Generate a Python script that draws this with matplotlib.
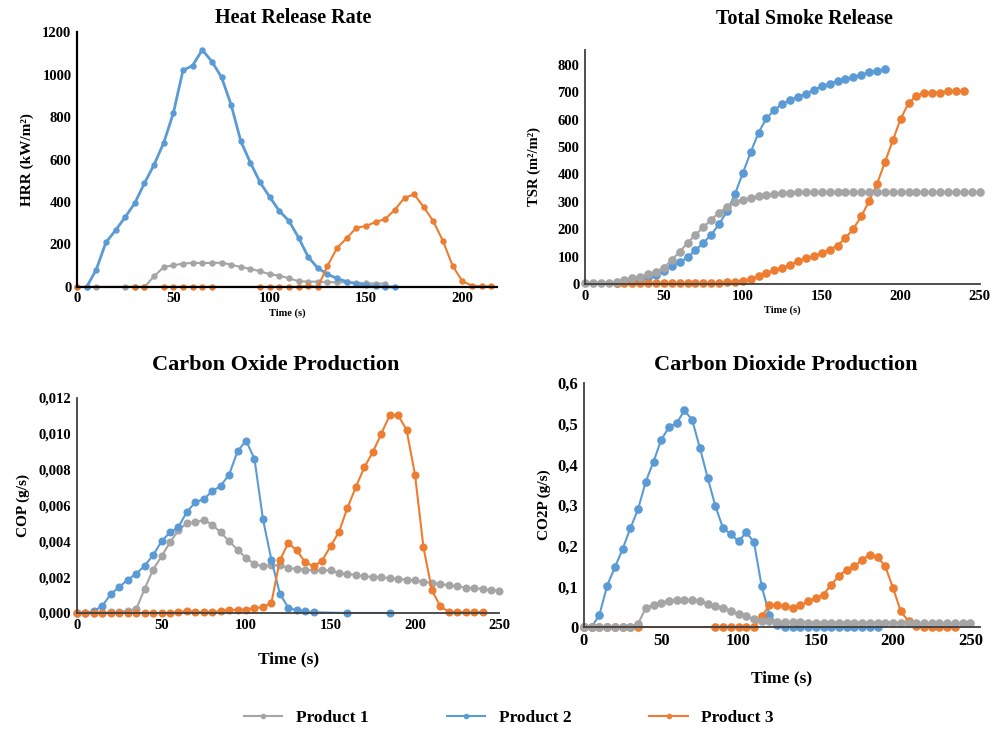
import numpy as np
import matplotlib
matplotlib.use("Agg")
import matplotlib.pyplot as plt

plt.rcParams['font.family'] = ['Liberation Serif', 'DejaVu Serif']
plt.rcParams['font.weight'] = 'bold'
plt.rcParams['axes.labelweight'] = 'bold'

GRIS = '#A5A5A5'
AZUL = '#5B9BD5'
NARANJA = '#ED7D31'
EJE = '#404040'

# ---- Heat Release Rate ----
t_hrr_p1 = np.concatenate([[0, 5, 10], np.arange(25, 161, 5)])
hrr_p1 = [0, 0, 0,
          0, 0, 0, 50, 94, 102, 110, 113, 113, 113, 114, 105, 94, 85, 74, 60,
          53, 41, 27, 25, 25, 23, 22, 22, 20, 18, 16, 16]
t_hrr_p2 = np.arange(5, 166, 5)
hrr_p2 = [0, 82, 210, 267, 329, 395, 489, 576, 679, 819, 1020, 1043, 1117,
          1062, 988, 858, 687, 585, 493, 424, 358, 311, 232, 141, 89, 60, 40,
          25, 15, 8, 3, 0, 0]
t_hrr_p3 = np.concatenate([[0, 30, 35], np.arange(45, 71, 5), np.arange(95, 216, 5)])
hrr_p3 = [0, 0, 0,
          0, 0, 0, 0, 0, 0,
          0, 0, 0, 0, 0, 5, 0, 99, 184, 230, 279, 287, 306, 320, 364, 420,
          436, 376, 309, 215, 99, 27, 6, 3, 3]

# ---- Total Smoke Release ----
t_tsr_p1 = np.arange(0, 251, 5)
tsr_p1 = [5, 5, 5, 5, 8, 14, 22, 27, 35, 45, 60, 88, 118, 150, 180, 207, 235,
          261, 281, 298, 308, 314, 322, 325, 330, 332, 334,
          335, 335, 335, 335, 335, 335, 335, 335, 335, 335, 335, 335, 335, 335,
          335, 335, 335, 335, 335, 335, 335, 335, 335, 335]
t_tsr_p2 = np.arange(20, 191, 5)
tsr_p2 = [3, 6, 10, 16, 24, 33, 46, 64, 80, 97, 123, 150, 180, 219, 265, 328,
          405, 481, 553, 605, 636, 657, 672, 684, 694, 709, 721, 731, 742, 749,
          755, 764, 773, 778, 785]
t_tsr_p3 = np.arange(20, 241, 5)
tsr_p3 = [2, 2, 2, 2, 2, 2, 2, 2, 2, 2, 2, 2, 2,
          3, 6, 8, 12, 18, 30, 40, 50, 58, 70, 83, 95, 102, 113, 125, 140, 168,
          201, 247, 302, 365, 444, 524, 603, 660, 687, 699, 699, 699, 704, 704,
          703]

# ---- Carbon Oxide Production ----
t_cop_p1 = np.arange(0, 251, 5)
cop_p1 = [0, 0, 0, 0, 0.00004, 0.00007, 0.00013, 0.00022, 0.00134, 0.00242,
          0.00316, 0.00394, 0.00461, 0.00502, 0.00506, 0.00519, 0.00493,
          0.0045, 0.004, 0.00353, 0.00307, 0.00273, 0.0026, 0.00266, 0.00266,
          0.00251, 0.00246, 0.00242, 0.00238, 0.00238, 0.00238, 0.00223,
          0.00218, 0.00212, 0.00205, 0.00201, 0.00201, 0.00193, 0.0019,
          0.00186, 0.00182, 0.00175, 0.00167, 0.00162, 0.00154, 0.00149,
          0.00141, 0.0014, 0.00134, 0.00127, 0.00125]
t_cop_p2 = np.concatenate([np.arange(0, 141, 5), [160, 185]])
cop_p2 = [0, 0, 0.0001, 0.0004, 0.00106, 0.00145, 0.00186, 0.00218, 0.00264,
          0.00322, 0.0040, 0.0045, 0.0048, 0.00564, 0.00618, 0.00636, 0.00679,
          0.0071, 0.00772, 0.00902, 0.00962, 0.00861, 0.00525, 0.00298,
          0.00108, 0.0003, 0.00015, 0.0001, 0.00004, 0, 0]
t_cop_p3 = np.arange(0, 241, 5)
cop_p3 = [0, 0, 0, 0, 0, 0, 0, 0, 0, 0, 0, 0,
          0.00006, 0.0001, 0.00006, 0.00006, 0.00006, 0.0001, 0.00017,
          0.00017, 0.00019, 0.00028, 0.00032, 0.00056, 0.00294, 0.0039,
          0.0035, 0.00283, 0.0026, 0.00292, 0.00372, 0.00452, 0.00586,
          0.00703, 0.00813, 0.00897, 0.00999, 0.01103, 0.01103, 0.01023,
          0.00772, 0.00368, 0.00127, 0.00037, 0.00006, 0.00005, 0.00005,
          0.00005, 0.00005]

# ---- Carbon Dioxide Production ----
t_co2_p1 = np.arange(0, 251, 5)
co2_p1 = [0, 0, 0, 0, 0, 0, 0,
          0.008, 0.047, 0.055, 0.059, 0.065, 0.066, 0.066, 0.066, 0.065,
          0.057, 0.051, 0.047, 0.039, 0.032, 0.026, 0.02, 0.016, 0.014, 0.013,
          0.012, 0.012, 0.012, 0.011, 0.011, 0.011, 0.011, 0.011, 0.011,
          0.011, 0.011, 0.011, 0.011, 0.011, 0.011, 0.010, 0.010, 0.010,
          0.010, 0.009, 0.009, 0.009, 0.009, 0.009, 0.009]
t_co2_p2 = np.arange(0, 191, 5)
co2_p2 = [0, 0, 0.03, 0.102, 0.147, 0.192, 0.243, 0.29, 0.358, 0.407, 0.461,
          0.492, 0.502, 0.533, 0.51, 0.441, 0.368, 0.298, 0.243, 0.229, 0.211,
          0.233, 0.209, 0.1, 0.03, 0.006,
          0, 0, 0, 0, 0, 0, 0, 0, 0, 0, 0, 0, 0]
t_co2_p3 = np.concatenate([np.arange(0, 36, 5), np.arange(85, 241, 5)])
co2_p3 = [0, 0, 0, 0, 0, 0, 0, 0,
          0, 0, 0, 0, 0, 0, 0.026, 0.053, 0.055, 0.051, 0.047, 0.053, 0.063,
          0.071, 0.08, 0.104, 0.126, 0.141, 0.149, 0.166, 0.178, 0.172,
          0.149, 0.096, 0.039, 0.014, 0.002, 0, 0, 0, 0, 0]

labels = ['Product 1', 'Product 2', 'Product 3']
colores = [GRIS, AZUL, NARANJA]


def preparar_eje(ax, eje_color=EJE, lw=1.3):
    for s in ['top', 'right']:
        ax.spines[s].set_visible(False)
    for s in ['left', 'bottom']:
        ax.spines[s].set_color(eje_color)
        ax.spines[s].set_linewidth(lw)
    ax.tick_params(length=0, pad=4)


def coma(v, pos, dec):
    return f"{v:.{dec}f}".replace('.', ',')


fig = plt.figure(figsize=(9.94, 7.32), dpi=100)

# HRR
ax1 = fig.add_axes([0.0775, 0.608, 0.4225, 0.348])
series = [(t_hrr_p1, hrr_p1), (t_hrr_p2, hrr_p2), (t_hrr_p3, hrr_p3)]
anchos = [1.5, 2.0, 1.5]
for (t, v), c, lw in zip(series, colores, anchos):
    ax1.plot(t, v, '-o', color=c, lw=lw, ms=3.6, clip_on=False)
ax1.set_xlim(0, 218)
ax1.set_ylim(0, 1200)
ax1.set_xticks([0, 50, 100, 150, 200])
ax1.set_yticks(np.arange(0, 1201, 200))
preparar_eje(ax1, 'black', 1.6)
ax1.tick_params(labelsize=10.5)
ax1.set_ylabel('HRR (kW/m²)', fontsize=11, labelpad=6)
ax1.set_xlabel('Time (s)', fontsize=7.5, labelpad=2)

# TSR
ax2 = fig.add_axes([0.5885, 0.612, 0.397, 0.320])
series = [(t_tsr_p2, tsr_p2), (t_tsr_p3, tsr_p3), (t_tsr_p1, tsr_p1)]
for (t, v), c in zip(series, [AZUL, NARANJA, GRIS]):
    ax2.plot(t, v, '-o', color=c, lw=1.5, ms=5.2, clip_on=False)
ax2.set_xlim(0, 250)
ax2.set_ylim(0, 855)
ax2.set_xticks(np.arange(0, 251, 50))
ax2.set_yticks(np.arange(0, 801, 100))
preparar_eje(ax2)
ax2.tick_params(labelsize=10.5)
ax2.set_ylabel('TSR (m²/m²)', fontsize=10.5, labelpad=12)
ax2.set_xlabel('Time (s)', fontsize=7.5, labelpad=2)

# COP
ax3 = fig.add_axes([0.0775, 0.1626, 0.425, 0.2937])
series = [(t_cop_p1, cop_p1), (t_cop_p2, cop_p2), (t_cop_p3, cop_p3)]
for (t, v), c in zip(series, colores):
    ax3.plot(t, v, '-o', color=c, lw=1.5, ms=4.8, clip_on=False)
ax3.set_xlim(0, 250)
ax3.set_ylim(0, 0.012)
ax3.set_xticks(np.arange(0, 251, 50))
ax3.set_yticks(np.arange(0, 0.0121, 0.002))
ax3.yaxis.set_major_formatter(plt.FuncFormatter(lambda v, p: coma(v, p, 3)))
preparar_eje(ax3)
ax3.tick_params(labelsize=10.5)
ax3.set_ylabel('COP (g/s)', fontsize=11, labelpad=6)
ax3.set_xlabel('Time (s)', fontsize=12.5, labelpad=14)

# CO2P
ax4 = fig.add_axes([0.5875, 0.1434, 0.398, 0.333])
series = [(t_co2_p2, co2_p2), (t_co2_p3, co2_p3), (t_co2_p1, co2_p1)]
for (t, v), c in zip(series, [AZUL, NARANJA, GRIS]):
    ax4.plot(t, v, '-o', color=c, lw=1.5, ms=5.2, clip_on=False)
ax4.set_xlim(0, 256)
ax4.set_ylim(0, 0.6)
ax4.set_xticks(np.arange(0, 251, 50))
ax4.set_yticks(np.arange(0, 0.61, 0.1))
ax4.yaxis.set_major_formatter(plt.FuncFormatter(
    lambda v, p: '0' if abs(v) < 1e-9 else coma(v, p, 1)))
preparar_eje(ax4)
ax4.tick_params(labelsize=12)
ax4.set_ylabel('CO2P (g/s)', fontsize=11, labelpad=5)
ax4.set_xlabel('Time (s)', fontsize=12.5, labelpad=16)

# titulos
fig.text(0.295, 0.975, 'Heat Release Rate', ha='center', va='center', fontsize=14.5)
fig.text(0.809, 0.974, 'Total Smoke Release', ha='center', va='center', fontsize=14.5)
fig.text(0.277, 0.501, 'Carbon Oxide Production', ha='center', va='center', fontsize=16)
fig.text(0.790, 0.501, 'Carbon Dioxide Production', ha='center', va='center', fontsize=16)

# leyenda
handles = [plt.Line2D([], [], color=c, marker='o', ms=3, lw=1.5) for c in colores]
fig.legend(handles, labels, loc='center', bbox_to_anchor=(0.512, 0.019), ncol=3,
           frameon=False, fontsize=12.5, handlelength=2.2, columnspacing=4.5,
           handletextpad=0.8)

fig.savefig('out.png', dpi=100)
